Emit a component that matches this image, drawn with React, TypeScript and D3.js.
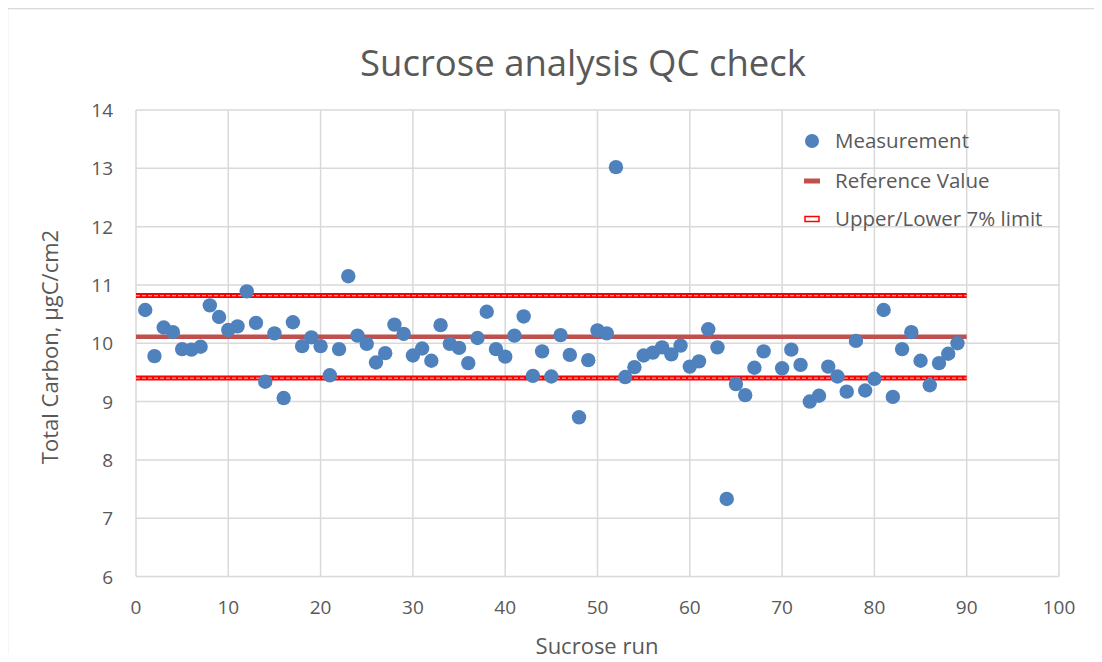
import { useEffect, useRef } from "react";
import * as d3 from "d3";

// run numbers (run 69 has no measurement)
const runs = [
  1, 2, 3, 4, 5, 6, 7, 8, 9, 10, 11, 12, 13, 14, 15, 16, 17, 18, 19, 20,
  21, 22, 23, 24, 25, 26, 27, 28, 29, 30, 31, 32, 33, 34, 35, 36, 37, 38, 39, 40,
  41, 42, 43, 44, 45, 46, 47, 48, 49, 50, 51, 52, 53, 54, 55, 56, 57, 58, 59, 60,
  61, 62, 63, 64, 65, 66, 67, 68, 70, 71, 72, 73, 74, 75, 76, 77, 78, 79, 80,
  81, 82, 83, 84, 85, 86, 87, 88, 89,
];

const measurements = [
  10.57, 9.78, 10.27, 10.19, 9.9, 9.89, 9.94, 10.65, 10.45, 10.23,
  10.29, 10.89, 10.35, 9.34, 10.17, 9.06, 10.36, 9.95, 10.1, 9.95,
  9.45, 9.9, 11.15, 10.13, 9.99, 9.67, 9.83, 10.32, 10.16, 9.79,
  9.91, 9.7, 10.31, 9.99, 9.92, 9.66, 10.09, 10.54, 9.9, 9.77,
  10.13, 10.46, 9.44, 9.86, 9.43, 10.14, 9.8, 8.73, 9.71, 10.22,
  10.17, 13.02, 9.42, 9.59, 9.79, 9.84, 9.93, 9.81, 9.96, 9.6,
  9.69, 10.24, 9.93, 7.33, 9.3, 9.11, 9.58, 9.86, 9.57, 9.89,
  9.63, 9.0, 9.1, 9.6, 9.43, 9.17, 10.04, 9.19, 9.39, 10.57,
  9.08, 9.9, 10.19, 9.7, 9.28, 9.66, 9.82, 10.0,
];

const referenceValue = 10.11;
const limitPct = 0.07;
const lineRange = [0, 90];

const xTicks = [0, 10, 20, 30, 40, 50, 60, 70, 80, 90, 100];
const yTicks = [6, 7, 8, 9, 10, 11, 12, 13, 14];

const legendItems = ["Measurement", "Reference Value", "Upper/Lower 7% limit"];

const W = 1102;
const H = 662;
const font = "'Open Sans', 'Noto Sans', sans-serif";
const textColor = "#595959";

export default function App() {
  const ref = useRef<SVGSVGElement>(null);

  useEffect(() => {
    if (!ref.current) return;
    const svg = d3.select(ref.current);
    svg.selectAll("*").remove();

    const left = 136, right = 1059, top = 110, bottom = 576.5;
    const x = d3.scaleLinear().domain([0, 100]).range([left, right]);
    const y = d3.scaleLinear().domain([6, 14]).range([bottom, top]);

    svg.append("rect").attr("width", W).attr("height", H).attr("fill", "#fff");
    svg.append("rect")
      .attr("x", 7.5).attr("y", 8.5).attr("width", W + 20).attr("height", H + 20)
      .attr("fill", "none").attr("stroke", "#d9d9d9").attr("stroke-width", 1.5);

    // grid
    const grid = svg.append("g").attr("stroke", "#d9d9d9").attr("stroke-width", 1.5);
    grid.selectAll("line.v").data(xTicks).enter().append("line")
      .attr("x1", d => x(d)).attr("x2", d => x(d)).attr("y1", top).attr("y2", bottom);
    grid.selectAll("line.h").data(yTicks).enter().append("line")
      .attr("x1", left).attr("x2", right).attr("y1", d => y(d)).attr("y2", d => y(d));

    // title
    svg.append("text")
      .attr("x", 583).attr("y", 76).attr("text-anchor", "middle")
      .attr("font-family", font).attr("font-size", 36.5).attr("fill", textColor)
      .text("Sucrose analysis QC check");

    // tick labels
    svg.append("g").selectAll("text").data(xTicks).enter().append("text")
      .attr("x", d => x(d)).attr("y", 614).attr("text-anchor", "middle")
      .attr("font-family", font).attr("font-size", 19).attr("fill", textColor)
      .text(d => d);
    svg.append("g").selectAll("text").data(yTicks).enter().append("text")
      .attr("x", 113).attr("y", d => y(d) + 7).attr("text-anchor", "end")
      .attr("font-family", font).attr("font-size", 19).attr("fill", textColor)
      .text(d => d);

    // axis titles
    svg.append("text")
      .attr("x", 597).attr("y", 654).attr("text-anchor", "middle")
      .attr("font-family", font).attr("font-size", 22).attr("fill", textColor)
      .text("Sucrose run");
    svg.append("text")
      .attr("transform", `translate(58,347) rotate(-90)`)
      .attr("text-anchor", "middle")
      .attr("font-family", font).attr("font-size", 22).attr("fill", textColor)
      .text("Total Carbon, µgC/cm2");

    // limit lines (double red)
    const limits = [referenceValue * (1 + limitPct), referenceValue * (1 - limitPct)];
    limits.forEach(v => {
      svg.append("line")
        .attr("x1", x(lineRange[0])).attr("x2", x(lineRange[1]))
        .attr("y1", y(v)).attr("y2", y(v))
        .attr("stroke", "#ff0000").attr("stroke-width", 5);
      svg.append("line")
        .attr("x1", x(lineRange[0])).attr("x2", x(lineRange[1]))
        .attr("y1", y(v)).attr("y2", y(v))
        .attr("stroke", "#ff9a9a").attr("stroke-width", 1.2)
        .attr("stroke-dasharray", "4,2");
    });

    // reference line
    svg.append("line")
      .attr("x1", x(lineRange[0])).attr("x2", x(lineRange[1]))
      .attr("y1", y(referenceValue)).attr("y2", y(referenceValue))
      .attr("stroke", "#c0504d").attr("stroke-width", 4.5);

    // points
    svg.append("g").selectAll("circle").data(runs).enter().append("circle")
      .attr("cx", d => x(d)).attr("cy", (_, i) => y(measurements[i]))
      .attr("r", 7.2).attr("fill", "#4f81bd");

    // legend
    const lg = svg.append("g").attr("font-family", font).attr("font-size", 20.5).attr("fill", textColor);
    const ly = [141, 181, 219];
    lg.append("circle").attr("cx", 812).attr("cy", ly[0]).attr("r", 7).attr("fill", "#4f81bd");
    lg.append("rect").attr("x", 804).attr("y", ly[1] - 2.5).attr("width", 16).attr("height", 5).attr("fill", "#c0504d");
    lg.append("rect").attr("x", 805).attr("y", ly[2] - 2.5).attr("width", 14).attr("height", 5)
      .attr("fill", "#fff").attr("stroke", "#ff0000").attr("stroke-width", 1.5);
    lg.selectAll("text").data(legendItems).enter().append("text")
      .attr("x", 835).attr("y", (_, i) => ly[i] + 7).text(d => d);
  }, []);

  return (
    <div style={{ margin: -8 }}>
      <svg ref={ref} width={W} height={H} style={{ display: "block" }} />
    </div>
  );
}
